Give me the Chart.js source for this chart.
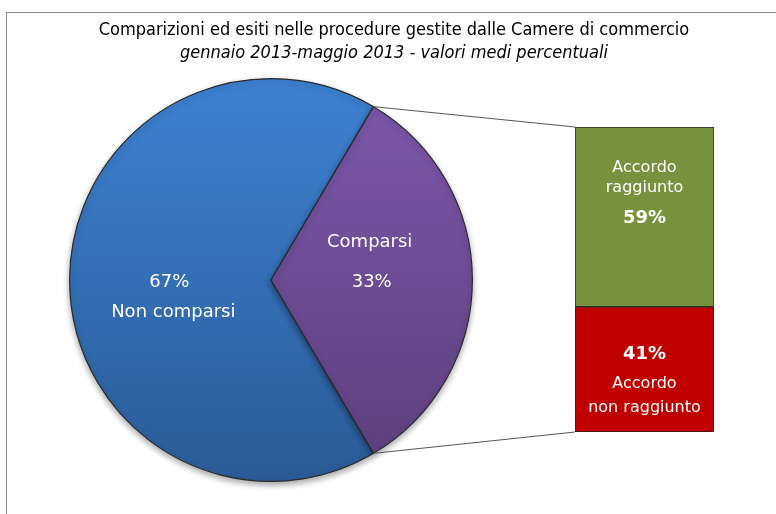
<!DOCTYPE html>
<html>
<head>
<meta charset="utf-8">
<script src="https://cdn.jsdelivr.net/npm/chart.js@4"></script>
<style>
  body { margin: 0; background: #fff; }
  #wrap { position: relative; width: 776px; height: 514px; }
  #wrap canvas { position: absolute; left: 0; top: 0; }
</style>
</head>
<body>
<div id="wrap">
  <canvas id="pieChart" width="776" height="514"></canvas>
  <canvas id="barChart" width="776" height="514"></canvas>
</div>
<script>
// Titles
const title = 'Comparizioni ed esiti nelle procedure gestite dalle Camere di commercio';
const subtitle = 'gennaio 2013-maggio 2013 - valori medi percentuali';

// Pie - Comparizioni
const pieLabels = ['Non comparsi', 'Comparsi'];
const pieValues = [67, 33];

// Bar - Esiti tra i comparsi
const barLabels = ['Accordo\nraggiunto', 'Accordo\nnon raggiunto'];
const barValues = [59, 41];

const FONT = '"DejaVu Sans", Verdana, sans-serif';
const TFONT = '"DejaVu Sans Condensed", "Liberation Sans", sans-serif';

// Frame + title
const framePlugin = {
  id: 'frame',
  beforeDraw(chart) {
    const ctx = chart.ctx;
    ctx.save();
    ctx.strokeStyle = '#8c8c8c';
    ctx.lineWidth = 1;
    ctx.strokeRect(6.5, 12.5, 900, 600);
    ctx.fillStyle = '#000';
    ctx.textAlign = 'center';
    ctx.textBaseline = 'middle';
    ctx.font = '18px ' + TFONT;
    ctx.fillText(title, 394, 30);
    ctx.font = 'italic 18px ' + TFONT;
    ctx.fillText(subtitle, 394, 53);
    ctx.restore();
  }
};

// shadow under the marks
const shadowPlugin = {
  id: 'shadow',
  beforeDatasetsDraw(chart) {
    const ctx = chart.ctx;
    ctx.save();
    ctx.shadowColor = 'rgba(0,0,0,0.35)';
    ctx.shadowBlur = 6;
    ctx.shadowOffsetY = 3;
  },
  afterDatasetsDraw(chart) {
    chart.ctx.restore();
  }
};

// slice labels
const pieLabelPlugin = {
  id: 'pieLabels',
  afterDatasetsDraw(chart) {
    const ctx = chart.ctx;
    const arcs = chart.getDatasetMeta(0).data;
    ctx.save();
    ctx.fillStyle = '#fff';
    ctx.textAlign = 'center';
    ctx.textBaseline = 'middle';
    ctx.font = '18px ' + FONT;
    arcs.forEach((arc, i) => {
      const p = arc.getCenterPoint();
      const pct = pieValues[i] + '%';
      if (i === 0) {
        ctx.fillText(pct, p.x - 1, p.y + 2);
        ctx.fillText(pieLabels[i], p.x + 3, p.y + 32);
      } else {
        ctx.fillText(pieLabels[i], p.x - 2, p.y - 38);
        ctx.fillText(pct, p.x, p.y + 2);
      }
    });
    ctx.restore();
  }
};

function vGrad(chart, top, bottom) {
  const area = chart.chartArea;
  if (!area) return top;
  const g = chart.ctx.createLinearGradient(0, area.top, 0, area.bottom);
  g.addColorStop(0, top);
  g.addColorStop(1, bottom);
  return g;
}

const pieChart = new Chart(document.getElementById('pieChart'), {
  type: 'pie',
  data: {
    labels: pieLabels,
    datasets: [{
      data: pieValues,
      backgroundColor: (c) => c.dataIndex === 0
        ? vGrad(c.chart, '#3d82d3', '#2b5b96')
        : vGrad(c.chart, '#7e58ad', '#5c3f7c'),
      borderColor: '#2a2a2a',
      borderWidth: 1.2
    }]
  },
  options: {
    responsive: false,
    animation: false,
    // second slice centred on the right
    rotation: 90 + 360 * (pieValues[1] / 2) / 100,
    layout: { padding: { left: 69, right: 303, top: 78, bottom: 32 } },
    plugins: { legend: { display: false }, tooltip: { enabled: false } }
  },
  plugins: [framePlugin, shadowPlugin, pieLabelPlugin]
});

// connector lines + bar labels
const barLabelPlugin = {
  id: 'barLabels',
  beforeDraw(chart) {
    // connectors from the split points of the pie to the bar corners
    const arc = pieChart.getDatasetMeta(0).data[1];
    const r = arc.outerRadius;
    const a0 = arc.startAngle, a1 = arc.endAngle;
    const top = chart.getDatasetMeta(1).data[0];
    const bottom = chart.getDatasetMeta(0).data[0];
    const left = top.x - top.width / 2;
    const ctx = chart.ctx;
    ctx.save();
    ctx.strokeStyle = '#555';
    ctx.lineWidth = 1;
    ctx.beginPath();
    ctx.moveTo(arc.x + r * Math.cos(a0), arc.y + r * Math.sin(a0));
    ctx.lineTo(left, Math.min(top.y, top.base));
    ctx.moveTo(arc.x + r * Math.cos(a1), arc.y + r * Math.sin(a1));
    ctx.lineTo(left, Math.max(bottom.y, bottom.base));
    ctx.stroke();
    ctx.restore();
  },
  afterDatasetsDraw(chart) {
    const ctx = chart.ctx;
    ctx.save();
    ctx.fillStyle = '#fff';
    ctx.textAlign = 'center';
    ctx.textBaseline = 'middle';
    // green (top) segment
    const g = chart.getDatasetMeta(1).data[0];
    const gy = (g.y + g.base) / 2;
    const gl = barLabels[0].split('\n');
    ctx.font = '16px ' + FONT;
    ctx.fillText(gl[0], g.x, gy - 49);
    ctx.fillText(gl[1], g.x, gy - 29);
    ctx.font = 'bold 18px ' + FONT;
    ctx.fillText(barValues[0] + '%', g.x, gy + 1);
    // red (bottom) segment
    const rb = chart.getDatasetMeta(0).data[0];
    const ry = (rb.y + rb.base) / 2;
    const rl = barLabels[1].split('\n');
    ctx.fillText(barValues[1] + '%', rb.x, ry - 15);
    ctx.font = '16px ' + FONT;
    ctx.fillText(rl[0], rb.x, ry + 14);
    ctx.fillText(rl[1], rb.x, ry + 38);
    ctx.restore();
  }
};

new Chart(document.getElementById('barChart'), {
  type: 'bar',
  data: {
    labels: [''],
    datasets: [
      // bottom segment first so the 59% sits on top
      {
        label: barLabels[1],
        data: [barValues[1]],
        backgroundColor: '#c00000',
        borderColor: '#2a2a2a',
        borderWidth: 1,
        borderSkipped: false,
        barPercentage: 1,
        categoryPercentage: 1
      },
      {
        label: barLabels[0],
        data: [barValues[0]],
        backgroundColor: '#76923c',
        borderColor: '#2a2a2a',
        borderWidth: 1,
        borderSkipped: false,
        barPercentage: 1,
        categoryPercentage: 1
      }
    ]
  },
  options: {
    responsive: false,
    animation: false,
    layout: { padding: { left: 575, right: 62, top: 127, bottom: 82 } },
    scales: {
      x: { stacked: true, display: false },
      y: { stacked: true, display: false, min: 0, max: 100 }
    },
    plugins: { legend: { display: false }, tooltip: { enabled: false } }
  },
  plugins: [shadowPlugin, barLabelPlugin]
});
</script>
</body>
</html>
